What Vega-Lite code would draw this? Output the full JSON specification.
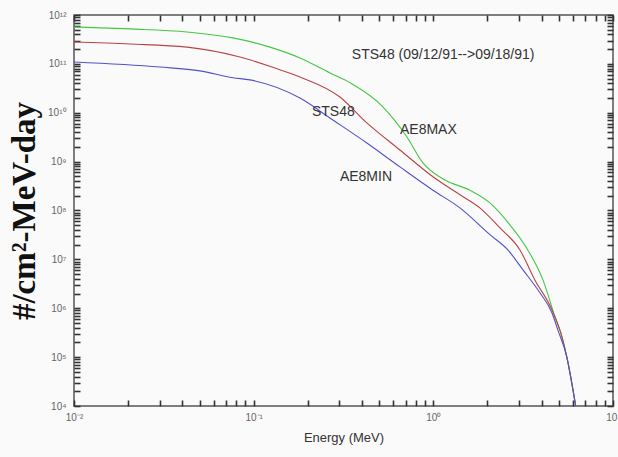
{
  "$schema": "https://vega.github.io/schema/vega-lite/v6.json",
  "width": 539,
  "height": 391,
  "autosize": {"type": "none"},
  "padding": {"left": 74, "top": 15, "right": 5, "bottom": 51},
  "background": "#fafafa",
  "config": {
    "view": {"stroke": "#555555", "strokeWidth": 1.5},
    "axis": {
      "grid": false,
      "ticks": true,
      "domain": false,
      "offset": -6,
      "tickColor": "#333333",
      "tickWidth": 1.6,
      "tickSize": 6,
      "labelColor": "#666666",
      "labelFont": "Liberation Sans",
      "labelFontSize": 10,
      "labelOverlap": false,
      "labelBound": false,
      "labelFlush": false
    }
  },
  "datasets": {
    "curves": [
      {"E": 0.01, "F": 5.7e11, "series": "AE8MAX"},
      {"E": 0.0205, "F": 5.2e11, "series": "AE8MAX"},
      {"E": 0.0426, "F": 4.5e11, "series": "AE8MAX"},
      {"E": 0.0767, "F": 3.4e11, "series": "AE8MAX"},
      {"E": 0.1233, "F": 2.2e11, "series": "AE8MAX"},
      {"E": 0.181, "F": 1.32e11, "series": "AE8MAX"},
      {"E": 0.266, "F": 6.5e10, "series": "AE8MAX"},
      {"E": 0.344, "F": 4.1e10, "series": "AE8MAX"},
      {"E": 0.525, "F": 1.31e10, "series": "AE8MAX"},
      {"E": 0.713, "F": 3.2e9, "series": "AE8MAX"},
      {"E": 0.875, "F": 9.4e8, "series": "AE8MAX"},
      {"E": 1.161, "F": 4.2e8, "series": "AE8MAX"},
      {"E": 1.6, "F": 2.6e8, "series": "AE8MAX"},
      {"E": 2.065, "F": 1.43e8, "series": "AE8MAX"},
      {"E": 2.667, "F": 5.1e7, "series": "AE8MAX"},
      {"E": 3.357, "F": 1.56e7, "series": "AE8MAX"},
      {"E": 4.074, "F": 3.8e6, "series": "AE8MAX"},
      {"E": 4.753, "F": 6.7e5, "series": "AE8MAX"},
      {"E": 5.2, "F": 2.6e5, "series": "AE8MAX"},
      {"E": 5.534, "F": 1.0e5, "series": "AE8MAX"},
      {"E": 6.2, "F": 1.0e4, "series": "AE8MAX"},
      {"E": 0.01, "F": 2.8e11, "series": "STS48"},
      {"E": 0.0205, "F": 2.55e11, "series": "STS48"},
      {"E": 0.0426, "F": 2.2e11, "series": "STS48"},
      {"E": 0.0839, "F": 1.38e11, "series": "STS48"},
      {"E": 0.1315, "F": 8.2e10, "series": "STS48"},
      {"E": 0.181, "F": 5.4e10, "series": "STS48"},
      {"E": 0.302, "F": 2.1e10, "series": "STS48"},
      {"E": 0.4266, "F": 6.2e9, "series": "STS48"},
      {"E": 0.6516, "F": 1.73e9, "series": "STS48"},
      {"E": 0.9954, "F": 4.9e8, "series": "STS48"},
      {"E": 1.406, "F": 2.1e8, "series": "STS48"},
      {"E": 1.815, "F": 1.13e8, "series": "STS48"},
      {"E": 2.35, "F": 4.4e7, "series": "STS48"},
      {"E": 3.034, "F": 1.56e7, "series": "STS48"},
      {"E": 3.673, "F": 3.8e6, "series": "STS48"},
      {"E": 4.571, "F": 9.3e5, "series": "STS48"},
      {"E": 5.2, "F": 2.6e5, "series": "STS48"},
      {"E": 5.534, "F": 1.0e5, "series": "STS48"},
      {"E": 6.2, "F": 1.0e4, "series": "STS48"},
      {"E": 0.01, "F": 1.09e11, "series": "AE8MIN"},
      {"E": 0.0301, "F": 8.6e10, "series": "AE8MIN"},
      {"E": 0.0502, "F": 7.2e10, "series": "AE8MIN"},
      {"E": 0.0767, "F": 5.2e10, "series": "AE8MIN"},
      {"E": 0.0953, "F": 4.7e10, "series": "AE8MIN"},
      {"E": 0.181, "F": 2.0e10, "series": "AE8MIN"},
      {"E": 0.276, "F": 7.1e9, "series": "AE8MIN"},
      {"E": 0.4266, "F": 2.4e9, "series": "AE8MIN"},
      {"E": 0.6516, "F": 7.8e8, "series": "AE8MIN"},
      {"E": 0.9954, "F": 2.6e8, "series": "AE8MIN"},
      {"E": 1.406, "F": 1.13e8, "series": "AE8MIN"},
      {"E": 2.065, "F": 3.2e7, "series": "AE8MIN"},
      {"E": 2.6, "F": 1.56e7, "series": "AE8MIN"},
      {"E": 3.155, "F": 6.1e6, "series": "AE8MIN"},
      {"E": 3.917, "F": 2.07e6, "series": "AE8MIN"},
      {"E": 4.571, "F": 8.1e5, "series": "AE8MIN"},
      {"E": 4.932, "F": 3.6e5, "series": "AE8MIN"},
      {"E": 5.534, "F": 1.0e5, "series": "AE8MIN"},
      {"E": 6.2, "F": 1.0e4, "series": "AE8MIN"}
    ],
    "notes": [
      {"E": 0.352, "F": 1.52e11, "label": "STS48 (09/12/91-->09/18/91)"},
      {"E": 0.211, "F": 1.04e10, "label": "STS48"},
      {"E": 0.652, "F": 4.45e9, "label": "AE8MAX"},
      {"E": 0.302, "F": 4.9e8, "label": "AE8MIN"}
    ]
  },
  "layer": [
    {
      "data": {"name": "curves"},
      "mark": {"type": "line", "strokeWidth": 1.1, "clip": true, "interpolate": "monotone"},
      "encoding": {
        "x": {
          "field": "E", "type": "quantitative",
          "scale": {"type": "log", "domain": [0.01, 10], "nice": false},
          "axis": {
            "orient": "bottom",
            "title": "Energy (MeV)",
            "titleFont": "Liberation Sans",
            "titleFontSize": 13,
            "titleFontWeight": "normal",
            "titleColor": "#333333",
            "titlePadding": 9,
            "labelPadding": 6,
            "values": [0.01,0.02,0.03,0.04,0.05,0.06,0.07,0.08,0.09,0.1,0.2,0.3,0.4,0.5,0.6,0.7,0.8,0.9,1,2,3,4,5,6,7,8,9,10],
            "labelExpr": "datum.value==0.01?'10⁻²':datum.value==0.1?'10⁻¹':datum.value==1?'10⁰':datum.value==10?'10¹':''"
          }
        },
        "y": {
          "field": "F", "type": "quantitative",
          "scale": {"type": "log", "domain": [1e4, 1e12], "nice": false},
          "axis": {
            "orient": "left",
            "title": "#/cm²-MeV-day",
            "titleFont": "Liberation Serif",
            "titleFontSize": 33,
            "titleFontWeight": "bold",
            "titleColor": "#111111",
            "titlePadding": 6,
            "labelPadding": 8,
            "values": [1e4,2e4,3e4,4e4,5e4,6e4,7e4,8e4,9e4,1e5,2e5,3e5,4e5,5e5,6e5,7e5,8e5,9e5,1e6,2e6,3e6,4e6,5e6,6e6,7e6,8e6,9e6,1e7,2e7,3e7,4e7,5e7,6e7,7e7,8e7,9e7,1e8,2e8,3e8,4e8,5e8,6e8,7e8,8e8,9e8,1e9,2e9,3e9,4e9,5e9,6e9,7e9,8e9,9e9,1e10,2e10,3e10,4e10,5e10,6e10,7e10,8e10,9e10,1e11,2e11,3e11,4e11,5e11,6e11,7e11,8e11,9e11,1e12],
            "labelExpr": "datum.value==1e4?'10⁴':datum.value==1e5?'10⁵':datum.value==1e6?'10⁶':datum.value==1e7?'10⁷':datum.value==1e8?'10⁸':datum.value==1e9?'10⁹':datum.value==1e10?'10¹⁰':datum.value==1e11?'10¹¹':datum.value==1e12?'10¹²':''"
          }
        },
        "color": {
          "field": "series", "type": "nominal",
          "scale": {"domain": ["AE8MAX", "STS48", "AE8MIN"], "range": ["#44c844", "#b84444", "#5252c8"]},
          "legend": null
        }
      }
    },
    {
      "data": {"name": "notes"},
      "mark": {"type": "text", "align": "left", "baseline": "middle", "font": "Liberation Sans", "fontSize": 14, "color": "#333333"},
      "encoding": {
        "x": {
          "field": "E", "type": "quantitative",
          "scale": {"type": "log", "domain": [0.01, 10], "nice": false},
          "axis": {
            "orient": "top", "title": null, "labels": false,
            "values": [0.01,0.02,0.03,0.04,0.05,0.06,0.07,0.08,0.09,0.1,0.2,0.3,0.4,0.5,0.6,0.7,0.8,0.9,1,2,3,4,5,6,7,8,9,10]
          }
        },
        "y": {
          "field": "F", "type": "quantitative",
          "scale": {"type": "log", "domain": [1e4, 1e12], "nice": false},
          "axis": {
            "orient": "right", "title": null, "labels": false,
            "values": [1e4,2e4,3e4,4e4,5e4,6e4,7e4,8e4,9e4,1e5,2e5,3e5,4e5,5e5,6e5,7e5,8e5,9e5,1e6,2e6,3e6,4e6,5e6,6e6,7e6,8e6,9e6,1e7,2e7,3e7,4e7,5e7,6e7,7e7,8e7,9e7,1e8,2e8,3e8,4e8,5e8,6e8,7e8,8e8,9e8,1e9,2e9,3e9,4e9,5e9,6e9,7e9,8e9,9e9,1e10,2e10,3e10,4e10,5e10,6e10,7e10,8e10,9e10,1e11,2e11,3e11,4e11,5e11,6e11,7e11,8e11,9e11,1e12]
          }
        },
        "text": {"field": "label", "type": "nominal"}
      }
    }
  ],
  "resolve": {"axis": {"x": "independent", "y": "independent"}}
}
